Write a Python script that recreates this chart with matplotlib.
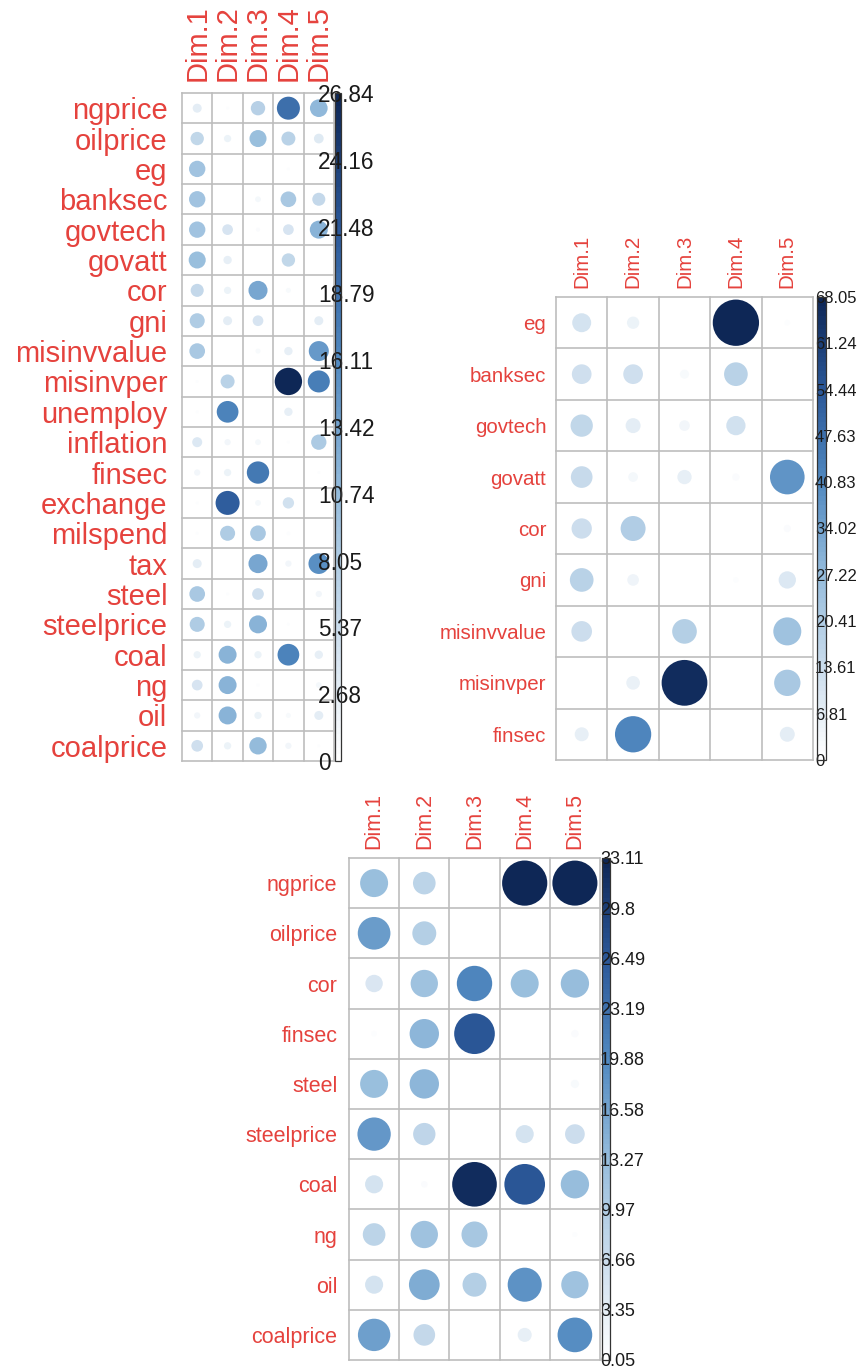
import numpy as np
import matplotlib
matplotlib.use("Agg")
import matplotlib.pyplot as plt
from matplotlib.patches import Circle
from matplotlib.colors import LinearSegmentedColormap, Normalize
from matplotlib.cm import ScalarMappable

plt.rcParams['font.family'] = ['Liberation Sans', 'DejaVu Sans']

# ---- contributions of variables to the first five dimensions ----
dims = ['Dim.1', 'Dim.2', 'Dim.3', 'Dim.4', 'Dim.5']

vars_all = ['ngprice', 'oilprice', 'eg', 'banksec', 'govtech', 'govatt', 'cor', 'gni',
            'misinvvalue', 'misinvper', 'unemploy', 'inflation', 'finsec', 'exchange',
            'milspend', 'tax', 'steel', 'steelprice', 'coal', 'ng', 'oil', 'coalprice']
contrib_all = [
    [2.9, 0.3, 7.4, 19.0, 11.2],
    [6.4, 1.9, 10.4, 7.0, 3.4],
    [9.6, 0.0, 0.2, 0.3, 0.05],
    [9.6, 0.15, 1.2, 8.8, 6.1],
    [9.6, 4.1, 0.6, 4.1, 11.6],
    [10.4, 2.5, 0.05, 6.4, 0.1],
    [6.1, 1.9, 13.0, 0.9, 0.1],
    [8.1, 2.9, 4.1, 0.1, 2.9],
    [8.8, 0.2, 0.9, 2.5, 14.4],
    [0.3, 7.0, 0.05, 26.84, 17.4],
    [0.3, 16.9, 0.05, 2.5, 0.05],
    [3.6, 1.4, 1.2, 0.3, 8.4],
    [1.4, 1.9, 17.9, 0.05, 0.3],
    [0.3, 20.7, 1.2, 4.6, 0.05],
    [0.3, 8.1, 8.8, 0.5, 0.05],
    [2.9, 0.05, 13.0, 1.4, 15.3],
    [8.8, 0.3, 4.9, 0.05, 1.4],
    [8.1, 1.9, 11.6, 0.3, 0.1],
    [1.9, 11.6, 1.9, 16.9, 2.5],
    [4.1, 11.6, 0.4, 0.2, 1.2],
    [1.4, 11.6, 1.9, 0.9, 2.9],
    [4.9, 1.9, 10.8, 1.4, 0.3],
]
ticks_all = ['0', '2.68', '5.37', '8.05', '10.74', '13.42', '16.11', '18.79', '21.48', '24.16', '26.84']

vars_gov = ['eg', 'banksec', 'govtech', 'govatt', 'cor', 'gni', 'misinvvalue', 'misinvper', 'finsec']
contrib_gov = [
    [11.4, 4.8, 0.05, 68.05, 1.0],
    [12.3, 12.3, 2.6, 17.8, 0.1],
    [15.8, 7.1, 3.6, 11.8, 0.1],
    [14.9, 3.0, 6.5, 1.7, 38.1],
    [13.1, 19.8, 0.05, 0.1, 1.7],
    [17.8, 4.3, 0.1, 1.0, 9.5],
    [13.5, 0.1, 19.3, 0.1, 24.9],
    [0.0, 5.9, 66.5, 0.1, 22.0],
    [6.2, 41.8, 0.1, 0.1, 7.1],
]
ticks_gov = ['0', '6.81', '13.61', '20.41', '27.22', '34.02', '40.83', '47.63', '54.44', '61.24', '68.05']

vars_energy = ['ngprice', 'oilprice', 'cor', 'finsec', 'steel', 'steelprice', 'coal', 'ng', 'oil', 'coalprice']
contrib_energy = [
    [12.7, 8.3, 0.05, 33.11, 32.9],
    [17.3, 9.3, 0.2, 0.1, 0.1],
    [4.9, 12.1, 20.3, 12.7, 13.0],
    [0.5, 14.0, 26.8, 0.1, 0.9],
    [12.7, 14.0, 0.3, 0.2, 1.1],
    [18.0, 8.1, 0.3, 5.3, 6.3],
    [5.3, 0.7, 32.3, 26.8, 13.0],
    [8.3, 12.1, 11.0, 0.2, 0.4],
    [5.3, 15.3, 9.3, 18.8, 12.1],
    [17.0, 7.6, 0.1, 3.2, 19.5],
]
ticks_energy = ['0.05', '3.35', '6.66', '9.97', '13.27', '16.58', '19.88', '23.19', '26.49', '29.8', '33.11']

# ---- styling ----
W, H = 859, 1369
LABEL_RED = '#E5423D'
GRID_GREY = '#BDBDBD'
cmap = LinearSegmentedColormap.from_list(
    'soft_blues', ['#FFFFFF', '#CADCEC', '#95BCDC', '#5189C0', '#2B5899', '#0E2756'], N=100)


def box(x0, y0, x1, y1):
    # pixel box (top-left origin) -> figure fraction rect
    return [x0 / W, 1 - y1 / H, (x1 - x0) / W, (y1 - y0) / H]


def corr_panel(fig, names, values, tick_labels, grid_px, bar_px, fs, cb_fs,
               row_pad, col_pad, cb_pad):
    vals = np.array(values, dtype=float)
    n = len(names)
    vmin, vmax = vals.min(), vals.max()

    ax = fig.add_axes(box(*grid_px))
    ax.set_xlim(0.5, 5.5)
    ax.set_ylim(n + 0.5, 0.5)
    for s in ax.spines.values():
        s.set_visible(False)

    # circles: area proportional to value, colour on the same scale
    for i in range(n):
        for j in range(5):
            v = vals[i, j]
            r = 0.45 * np.sqrt(max(v, 0) / vmax)
            ax.add_patch(Circle((j + 1, i + 1), r, facecolor=cmap(v / vmax),
                                edgecolor='none', zorder=2))

    for k in range(6):
        ax.axvline(k + 0.5, color=GRID_GREY, lw=1.2, clip_on=False, zorder=1)
    for k in range(n + 1):
        ax.axhline(k + 0.5, color=GRID_GREY, lw=1.2, clip_on=False, zorder=1)

    ax.set_yticks(range(1, n + 1))
    ax.set_yticklabels(names, fontsize=fs, color=LABEL_RED)
    ax.set_xticks(range(1, 6))
    ax.set_xticklabels(dims, fontsize=fs, color=LABEL_RED, rotation=90)
    ax.xaxis.tick_top()
    ax.tick_params(axis='y', length=0, pad=row_pad)
    ax.tick_params(axis='x', length=0, pad=col_pad)

    # colour legend
    cax = fig.add_axes(box(*bar_px))
    sm = ScalarMappable(norm=Normalize(vmin, vmax), cmap=cmap)
    cb = fig.colorbar(sm, cax=cax)
    cb.outline.set_edgecolor('#333333')
    cb.outline.set_linewidth(0.9)
    cb.set_ticks(np.linspace(vmin, vmax, len(tick_labels)))
    cb.set_ticklabels(tick_labels)
    cax.tick_params(axis='y', length=0, pad=cb_pad, labelsize=cb_fs, labelcolor='#1a1a1a')
    return ax


fig = plt.figure(figsize=(W / 100, H / 100), dpi=100)
fig.patch.set_facecolor('white')

corr_panel(fig, vars_all, contrib_all, ticks_all,
           grid_px=(182, 93, 334, 761), bar_px=(335, 93, 341, 761),
           fs=21, cb_fs=16.3, row_pad=10.5, col_pad=8.5, cb_pad=-16.6)

corr_panel(fig, vars_gov, contrib_gov, ticks_gov,
           grid_px=(556, 297, 813, 760), bar_px=(817, 297, 826, 760),
           fs=14.8, cb_fs=12, row_pad=7.0, col_pad=6.3, cb_pad=-7.9)

corr_panel(fig, vars_energy, contrib_energy, ticks_energy,
           grid_px=(349, 858, 600, 1360), bar_px=(602, 858, 610, 1360),
           fs=15.5, cb_fs=13, row_pad=8.4, col_pad=6.3, cb_pad=-7.2)

fig.savefig('out.png', dpi=100, facecolor='white')
